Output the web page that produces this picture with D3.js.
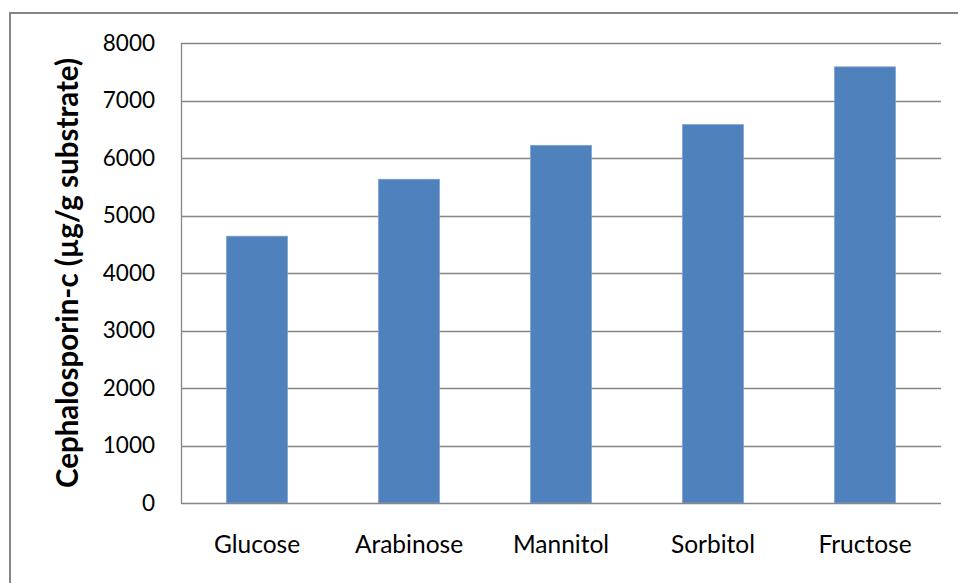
<!DOCTYPE html>
<html>
<head>
<meta charset="utf-8">
<script src="https://cdn.jsdelivr.net/npm/d3@7"></script>
<style>
  html, body { margin: 0; padding: 0; background: #fff; }
  svg { display: block; }
</style>
</head>
<body>
<script>
const categories = ["Glucose", "Arabinose", "Mannitol", "Sorbitol", "Fructose"];
const values = [4640, 5630, 6220, 6580, 7585];
const yTicks = [0, 1000, 2000, 3000, 4000, 5000, 6000, 7000, 8000];
const yTitle = "Cephalosporin-c (µg/g substrate)";

const W = 958, H = 583;
const plot = { left: 181, right: 941, top: 43, bottom: 503 };
const font = "Lato, 'Open Sans', sans-serif";

const svg = d3.select("body").append("svg").attr("width", W).attr("height", H);

// outer chart border (extends beyond the visible area on right/bottom)
svg.append("rect").attr("x", 10).attr("y", 13).attr("width", 1000).attr("height", 700)
  .attr("fill", "#fff").attr("stroke", "#868686").attr("stroke-width", 2);

const x = d3.scaleBand().domain(categories).range([plot.left, plot.right]).paddingInner(0.6).paddingOuter(0.3);
const y = d3.scaleLinear().domain([0, 8000]).range([plot.bottom, plot.top]);

// gridlines
svg.append("g").selectAll("line").data(yTicks.filter(d => d > 0)).join("line")
  .attr("x1", plot.left).attr("x2", plot.right)
  .attr("y1", d => Math.round(y(d)) + 0.5).attr("y2", d => Math.round(y(d)) + 0.5)
  .attr("stroke", "#868686").attr("stroke-width", 1.3);

// bars
svg.append("g").selectAll("rect").data(values).join("rect")
  .attr("x", (d, i) => x(categories[i]))
  .attr("width", x.bandwidth())
  .attr("y", d => y(d))
  .attr("height", d => y(0) - y(d))
  .attr("fill", "#4F81BD")
  .attr("stroke", "#7A9FCF").attr("stroke-width", 0.8);

// y axis
const yAxis = d3.axisLeft(y).tickValues(yTicks).tickSize(0).tickPadding(26).tickFormat(d3.format("d"));
const gy = svg.append("g").attr("transform", `translate(${plot.left},0)`).call(yAxis);
gy.select(".domain").attr("stroke", "#868686").attr("stroke-width", 1.3);
gy.selectAll("text").attr("font-family", font).attr("font-size", 22.5).attr("fill", "#000");

// x axis
const xAxis = d3.axisBottom(x).tickSize(0).tickPadding(33);
const gx = svg.append("g").attr("transform", `translate(0,${plot.bottom})`).call(xAxis);
gx.select(".domain").attr("stroke", "#868686").attr("stroke-width", 1.3).attr("d", `M${plot.left},0.5H${plot.right}`);
gx.selectAll("text").attr("font-family", font).attr("font-size", 24.5).attr("fill", "#000");

// y title
svg.append("text")
  .attr("transform", `translate(78,${(plot.top + plot.bottom) / 2}) rotate(-90)`)
  .attr("text-anchor", "middle")
  .attr("font-family", font).attr("font-weight", "bold").attr("font-size", 29.5)
  .attr("fill", "#000")
  .text(yTitle);
</script>
</body>
</html>
